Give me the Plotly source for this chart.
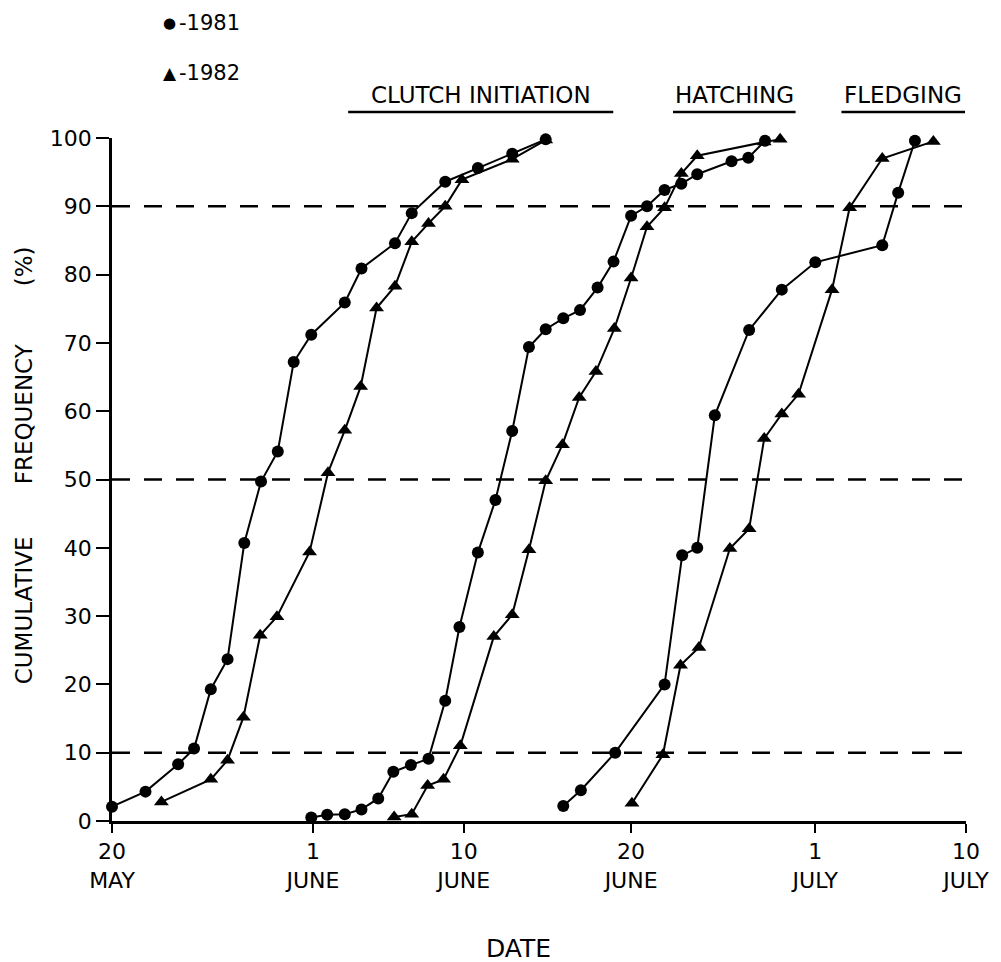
import plotly.graph_objects as go

# x values: days after 20 May (20 May = 0, 1 June = 12, 10 June = 21, 20 June = 31, 1 July = 42, 10 July = 51)
clutch_1981_day = [0.0, 2.0, 3.95, 4.9, 5.9, 6.9, 7.9, 8.9, 9.9, 10.85, 11.9, 13.9, 14.9, 16.9, 17.9, 19.9, 21.85, 23.9, 25.9]
clutch_1981_pct = [2.1, 4.3, 8.3, 10.6, 19.3, 23.7, 40.7, 49.7, 54.1, 67.2, 71.2, 75.9, 80.9, 84.6, 89.0, 93.6, 95.6, 97.7, 99.8]

clutch_1982_day = [2.95, 5.9, 6.9, 7.85, 8.85, 9.85, 11.8, 12.9, 13.9, 14.85, 15.8, 16.9, 17.9, 18.9, 19.9, 20.9, 23.9, 25.9]
clutch_1982_pct = [2.8, 6.1, 8.9, 15.2, 27.2, 29.9, 39.4, 51.0, 57.2, 63.6, 75.1, 78.3, 84.8, 87.5, 90.0, 93.9, 96.9, 99.7]

hatch_1981_day = [11.9, 12.85, 13.9, 14.9, 15.9, 16.8, 17.85, 18.9, 19.9, 20.75, 21.85, 22.9, 23.9, 24.9, 25.9,
                  26.95, 27.95, 29.0, 29.95, 31.0, 31.95, 33.0, 34.0, 34.95, 37.0, 38.0, 39.0]
hatch_1981_pct = [0.5, 0.9, 1.0, 1.7, 3.3, 7.2, 8.2, 9.1, 17.6, 28.4, 39.3, 47.0, 57.1, 69.4, 72.0,
                  73.6, 74.8, 78.1, 81.9, 88.6, 90.0, 92.4, 93.3, 94.7, 96.6, 97.1, 99.6]

hatch_1982_day = [16.85, 17.9, 18.85, 19.8, 20.8, 22.8, 23.9, 24.9, 25.9, 26.9, 27.9, 28.9, 30.0, 31.0, 31.95,
                  33.0, 34.0, 34.95, 38.95, 39.9]
hatch_1982_pct = [0.6, 1.0, 5.2, 6.1, 11.0, 27.0, 30.2, 39.7, 49.8, 55.1, 62.0, 65.8, 72.1, 79.5, 87.0,
                  89.8, 94.8, 97.4, 99.4, 99.8]

fledge_1981_day = [26.95, 28.0, 30.05, 33.0, 34.05, 34.95, 36.0, 38.05, 40.0, 42.0, 46.0, 46.95, 47.95]
fledge_1981_pct = [2.2, 4.5, 10.0, 20.0, 38.9, 40.0, 59.4, 71.9, 77.8, 81.8, 84.3, 92.0, 99.6]

fledge_1982_day = [31.05, 32.9, 33.95, 35.05, 36.9, 38.05, 38.95, 40.0, 41.0, 43.0, 44.05, 46.0, 49.05]
fledge_1982_pct = [2.6, 9.7, 22.8, 25.4, 39.9, 42.8, 56.0, 59.6, 62.5, 77.8, 89.8, 97.0, 99.5]

tick_days = [0, 12, 21, 31, 42, 51]
tick_text = ["20<br>MAY", "1<br>JUNE", "10<br>JUNE", "20<br>JUNE", "1<br>JULY", "10<br>JULY"]
y_ticks = [0, 10, 20, 30, 40, 50, 60, 70, 80, 90, 100]
ref_levels = [10, 50, 90]

stage_titles = ["CLUTCH INITIATION", "HATCHING", "FLEDGING"]
legend_symbols = ["\u25cf", "\u25b2"]
legend_texts = ["-1981", "-1982"]

FONT = "DejaVu Sans"
W, H = 1001, 962
L, R, T, B = 112, 32, 138, 141
PW, PH = W - L - R, H - T - B


def px(xp):
    return (xp - L) / PW


def py(yp):
    return (H - B - yp) / PH


fig = go.Figure()

series = [
    (clutch_1981_day, clutch_1981_pct, "circle", 12),
    (clutch_1982_day, clutch_1982_pct, "triangle-up", 13),
    (hatch_1981_day, hatch_1981_pct, "circle", 12),
    (hatch_1982_day, hatch_1982_pct, "triangle-up", 13),
    (fledge_1981_day, fledge_1981_pct, "circle", 12),
    (fledge_1982_day, fledge_1982_pct, "triangle-up", 13),
]
for xs, ys, sym, sz in series:
    fig.add_trace(go.Scatter(
        x=xs, y=ys, mode="lines+markers",
        line=dict(color="black", width=2),
        marker=dict(symbol=sym, size=sz, color="black"),
        cliponaxis=False, showlegend=False, hoverinfo="skip",
    ))

for lvl in ref_levels:
    fig.add_shape(type="line", xref="x", yref="y", x0=0, x1=51, y0=lvl, y1=lvl,
                  line=dict(color="black", width=2.5, dash="18px,14px"), layer="below")

# stage headers with underlines
header_pos = [(349, 615), (675, 798), (844, 968)]
for title, (x0, x1) in zip(stage_titles, header_pos):
    fig.add_annotation(text=title, xref="paper", yref="paper", x=px((x0 + x1) / 2), y=py(95),
                       showarrow=False, xanchor="center", yanchor="middle",
                       font=dict(family=FONT, size=23, color="black"))
    fig.add_shape(type="line", xref="paper", yref="paper", x0=px(x0), x1=px(x1), y0=py(112), y1=py(112),
                  line=dict(color="black", width=2.5))

# legend: symbols + text
legend_y = [23, 73]
sym_sizes = [15, 17]
for sym, txt, yc, ss in zip(legend_symbols, legend_texts, legend_y, sym_sizes):
    fig.add_annotation(text=sym, xref="paper", yref="paper", x=px(170), y=py(yc),
                       showarrow=False, xanchor="center", yanchor="middle",
                       font=dict(family=FONT, size=ss, color="black"))
    fig.add_annotation(text=txt, xref="paper", yref="paper", x=px(177), y=py(yc),
                       showarrow=False, xanchor="left", yanchor="middle",
                       font=dict(family=FONT, size=21, color="black"))

# y-axis title pieces
for word, yc in [("(%)", 266), ("FREQUENCY", 414), ("CUMULATIVE", 610)]:
    fig.add_annotation(text=word, xref="paper", yref="paper", x=px(24), y=py(yc),
                       showarrow=False, textangle=-90, xanchor="center", yanchor="middle",
                       font=dict(family=FONT, size=23, color="black"))

# x-axis title
fig.add_annotation(text="DATE", xref="paper", yref="paper", x=px(520), y=py(948),
                   showarrow=False, xanchor="center", yanchor="middle",
                   font=dict(family=FONT, size=25, color="black"))

fig.update_xaxes(range=[0, 51], tickvals=tick_days, ticktext=tick_text,
                 showgrid=False, zeroline=False, showline=True, linecolor="black", linewidth=3,
                 ticks="outside", ticklen=9, tickwidth=2, tickcolor="black",
                 tickfont=dict(family=FONT, size=22, color="black"))
fig.update_yaxes(range=[0, 100], tickvals=y_ticks,
                 showgrid=False, zeroline=False, showline=True, linecolor="black", linewidth=2.5,
                 ticks="outside", ticklen=13, tickwidth=2, tickcolor="black",
                 tickfont=dict(family=FONT, size=22, color="black"))

fig.update_layout(width=W, height=H, margin=dict(l=L, r=R, t=T, b=B),
                  plot_bgcolor="white", paper_bgcolor="white", showlegend=False)

fig.write_html("out.html")
